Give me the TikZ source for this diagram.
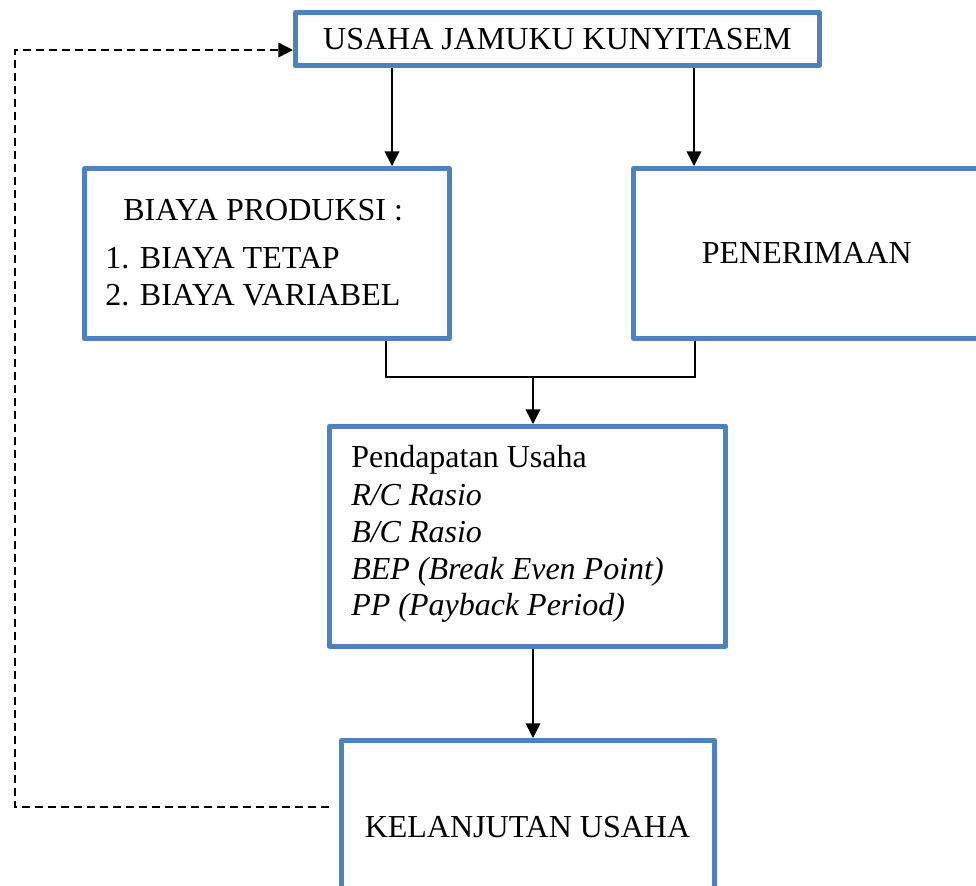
\documentclass[tikz,border=0pt]{standalone}
\usepackage{fontspec}
\setmainfont{Liberation Serif}
\usetikzlibrary{arrows.meta}
\definecolor{boxblue}{RGB}{79,129,189}
\begin{document}
\begin{tikzpicture}[x=0.75pt,y=-0.75pt,
  box/.style={draw=boxblue, line width=3.75pt, line join=round, rectangle, inner sep=0pt, font=\fontsize{24}{28}\selectfont},
  txt/.style={inner sep=0pt, font=\fontsize{24}{28}\selectfont, anchor=base west},
  arr/.style={-{Triangle[width=11pt,length=11pt]}, line width=1.1pt},
  conn/.style={line width=1.1pt},
  fb/.style={dash pattern=on 6pt off 3.75pt, line width=1.1pt, -{Triangle[width=11pt,length=11pt]}}]
\useasboundingbox (0,0) rectangle (976,886);
\clip (0,0) rectangle (976,886);
% boxes
\node[box, minimum width=393pt, minimum height=39.75pt] (top) at (557.5,39) {USAHA JAMUKU KUNYITASEM};
\node[box, minimum width=273.75pt, minimum height=127.5pt] (biaya) at (267,253.5) {};
\node[box, minimum width=259.875pt, minimum height=127.125pt] (pen) at (806.75,253.25) {PENERIMAAN};
\node[box, minimum width=297pt, minimum height=164.625pt] (pend) at (527.5,536.25) {};
\node[box, minimum width=279.75pt, minimum height=128.625pt] (kel) at (528,826.25) {};
% texts
\node[txt] (b1) at (123,220) {BIAYA PRODUKSI :};
\node[txt] (b2) at (105,268) {1. BIAYA TETAP};
\node[txt] (b3) at (105,305) {2. BIAYA VARIABEL};
\node[txt] (p1) at (351,467) {Pendapatan Usaha};
\node[txt] (p2) at (351,505) {\itshape R/C Rasio};
\node[txt] (p3) at (351,542) {\itshape B/C Rasio};
\node[txt] (p4) at (351,579) {\itshape BEP (Break Even Point)};
\node[txt] (p5) at (351,615) {\itshape PP (Payback Period)};
\node[inner sep=0pt, font=\fontsize{24}{28}\selectfont, anchor=base] (k1) at (527.5,837) {KELANJUTAN USAHA};
% helper coordinates
\coordinate (c1) at (392,0);
\coordinate (c2) at (694,0);
\coordinate (c3) at (386,0);
\coordinate (c4) at (695,0);
\coordinate (j) at (533,377);
\coordinate (d0) at (329,807);
\coordinate (d2) at (15,50);
% connectors
\draw[arr] (top.south -| c1) -- (biaya.north -| c1);
\draw[arr] (top.south -| c2) -- (pen.north -| c2);
\draw[conn] (biaya.south -| c3) -- (c3 |- j) -- (c4 |- j) -- (pen.south -| c4);
\draw[arr] (j) -- (pend.north -| j);
\draw[arr] (pend.south -| j) -- (kel.north -| j);
\draw[fb] (d0) -| (d2) -- (top.west |- d2);
\end{tikzpicture}
\end{document}
